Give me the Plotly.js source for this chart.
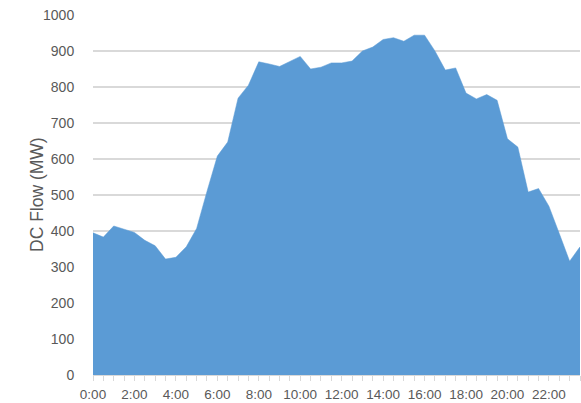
<!DOCTYPE html>
<html>
<head>
<meta charset="utf-8">
<script src="https://cdn.plot.ly/plotly-3.0.1.min.js"></script>
<style>html,body{margin:0;padding:0;background:#fff;}#chart{width:581px;height:403px;}</style>
</head>
<body>
<div id="chart"></div>
<script>
// Half-hourly time categories
var times = ["0:00","0:30","1:00","1:30","2:00","2:30","3:00","3:30","4:00","4:30","5:00","5:30",
  "6:00","6:30","7:00","7:30","8:00","8:30","9:00","9:30","10:00","10:30","11:00","11:30",
  "12:00","12:30","13:00","13:30","14:00","14:30","15:00","15:30","16:00","16:30","17:00","17:30",
  "18:00","18:30","19:00","19:30","20:00","20:30","21:00","21:30","22:00","22:30","23:00","23:30"];
// DC flow (MW)
var dcFlow = [395,383,414,404,396,374,359,322,327,356,407,510,
  608,647,769,805,870,864,857,871,885,850,855,867,
  867,872,900,911,932,937,927,944,944,900,847,853,
  783,767,779,763,656,633,508,518,469,393,316,356];
// Labelled ticks (every 2 hours)
var labelTimes = ["0:00","2:00","4:00","6:00","8:00","10:00","12:00","14:00","16:00","18:00","20:00","22:00"];
var yTitle = 'DC Flow (MW)';

var tickText = times.map(function(t){ return labelTimes.indexOf(t) >= 0 ? t : ""; });

var trace = {
  x: times, y: dcFlow, type: 'scatter', mode: 'lines',
  fill: 'tozeroy', fillcolor: '#5B9BD5',
  line: {color: '#5B9BD5', width: 0.5},
  hoverinfo: 'skip'
};

var layout = {
  width: 581, height: 403,
  margin: {l: 93, r: 1, t: 15, b: 28},
  paper_bgcolor: '#ffffff', plot_bgcolor: '#ffffff',
  showlegend: false,
  font: {family: 'Liberation Sans, Arial, sans-serif', color: '#595959', size: 13.5},
  xaxis: {
    type: 'category', range: [0, times.length - 1],
    tickmode: 'array', tickvals: times, ticktext: tickText,
    ticks: 'outside', ticklen: 5, tickcolor: '#d9d9d9', tickwidth: 1,
    ticklabelstandoff: 2,
    showline: true, linecolor: '#d9d9d9', linewidth: 1,
    showgrid: false, zeroline: false,
    tickfont: {size: 13.5, color: '#595959'}, tickangle: 0
  },
  yaxis: {
    range: [0, 1000], dtick: 100, tick0: 0,
    showgrid: true, gridcolor: '#d9d9d9', gridwidth: 1.2,
    showline: false, zeroline: false,
    ticks: 'outside', ticklen: 15, tickcolor: 'rgba(0,0,0,0)',
    tickfont: {size: 14, color: '#595959'}
  },
  annotations: [{
    text: yTitle, textangle: -90, showarrow: false,
    xref: 'paper', yref: 'paper', x: (37 - 93) / 487, y: 0.5,
    xanchor: 'center', yanchor: 'middle',
    font: {size: 17.5, color: '#595959'}
  }]
};

Plotly.newPlot('chart', [trace], layout, {displayModeBar: false, staticPlot: true});
</script>
</body>
</html>
